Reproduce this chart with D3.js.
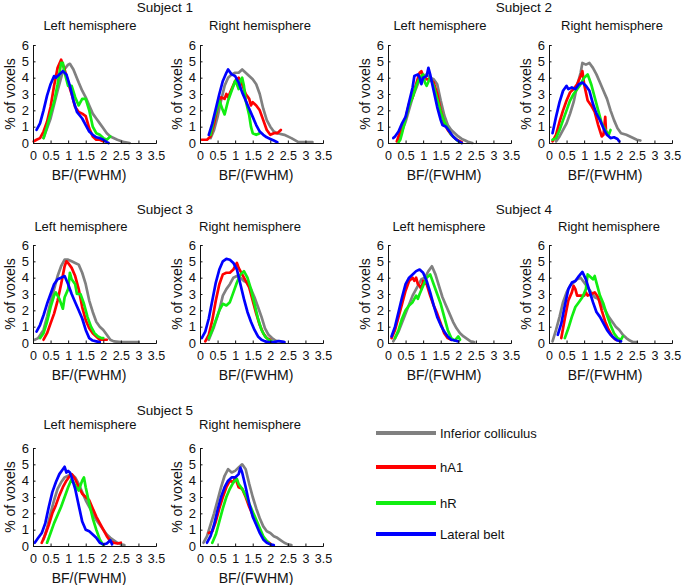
<!DOCTYPE html>
<html><head><meta charset="utf-8">
<script src="https://cdn.jsdelivr.net/npm/d3@7"></script>
<style>
body{margin:0;background:#fff;}
text{font-family:"Liberation Sans",Arial,sans-serif;fill:#111;}
</style></head>
<body>
<svg id="c" width="685" height="585"></svg>
<script>
// ---------- tick labels / categories ----------
const xTicks = [0, 0.5, 1, 1.5, 2, 2.5, 3, 3.5];
const xTickLabels = ["0", "0.5", "1", "1.5", "2", "2.5", "3", "3.5"];
const yTicks = [0, 1, 2, 3, 4, 5, 6];
const yTickLabels = ["0", "1", "2", "3", "4", "5", "6"];
const seriesNames = ["Inferior colliculus", "hA1", "hR", "Lateral belt"];
const seriesColors = ["#808080", "#ff0000", "#11ee11", "#0000ff"];
const subjects = ["Subject 1", "Subject 2", "Subject 3", "Subject 4", "Subject 5"];
const hemis = ["Left hemisphere", "Right hemisphere"];

// ---------- Subject 1 ----------
const s1L_IC = [[0.3,0.3],[0.5,1.5],[0.7,3.2],[0.85,4.4],[1.0,4.8],[1.05,4.85],[1.15,4.5],[1.3,3.7],[1.4,3.2],[1.5,2.8],[1.6,2.3],[1.7,1.8],[1.8,1.5],[1.9,1.2],[2.0,0.9],[2.1,0.6],[2.2,0.4],[2.4,0.2],[2.6,0.05],[2.75,0]];
const s1L_hA1 = [[0.02,0.1],[0.1,0.2],[0.2,0.3],[0.3,0.7],[0.4,1.3],[0.5,2.2],[0.6,3.5],[0.7,4.6],[0.8,5.1],[0.9,4.5],[1.0,3.7],[1.1,3.0],[1.2,2.2],[1.3,1.9],[1.4,1.8],[1.5,1.65],[1.6,0.9],[1.7,0.4],[1.8,0.2],[1.9,0.2],[2.0,0.1]];
const s1L_hR = [[0.3,0.3],[0.4,1.0],[0.5,1.8],[0.6,2.5],[0.7,3.6],[0.8,4.9],[0.85,4.9],[0.9,4.3],[1.0,3.5],[1.1,3.5],[1.2,2.8],[1.3,2.3],[1.4,2.7],[1.5,2.7],[1.6,2.0],[1.7,1.0],[1.8,0.6],[1.9,0.5],[2.0,0.3],[2.1,0.2],[2.2,0.4]];
const s1L_LB = [[0.1,0.8],[0.2,1.2],[0.3,2.0],[0.4,2.9],[0.5,3.6],[0.6,4.1],[0.65,4.0],[0.75,4.2],[0.85,4.4],[0.95,4.2],[1.05,3.5],[1.15,2.6],[1.25,1.9],[1.4,1.5],[1.5,1.1],[1.6,0.7],[1.7,0.5],[1.8,0.35],[1.9,0.3],[2.0,0.2],[2.1,0.05],[2.15,0]];
const s1R_IC = [[0.3,0.3],[0.4,0.8],[0.5,1.6],[0.6,2.6],[0.7,3.5],[0.8,4.0],[0.9,4.2],[1.0,4.3],[1.1,4.3],[1.2,4.5],[1.3,4.3],[1.4,4.1],[1.5,3.9],[1.6,3.6],[1.7,3.0],[1.8,2.1],[1.9,1.4],[2.0,1.0],[2.1,0.7],[2.2,0.6],[2.4,0.5],[2.6,0.3],[2.8,0.05],[3.0,0.05],[3.2,0.05]];
const s1R_hA1 = [[0.05,0.2],[0.2,0.2],[0.3,0.4],[0.4,1.2],[0.5,2.2],[0.6,2.8],[0.7,2.7],[0.75,3.0],[0.8,2.8],[0.9,3.3],[1.0,3.8],[1.1,4.0],[1.2,3.6],[1.3,3.0],[1.4,2.7],[1.45,2.3],[1.5,2.5],[1.6,2.3],[1.7,2.0],[1.8,1.4],[1.9,0.8],[2.0,0.5],[2.1,0.6],[2.2,0.6],[2.3,0.8]];
const s1R_hR = [[0.3,0.5],[0.4,1.5],[0.5,2.2],[0.55,2.6],[0.65,2.0],[0.7,1.75],[0.8,2.6],[0.9,3.2],[1.0,3.8],[1.05,3.6],[1.1,3.3],[1.15,3.8],[1.2,4.0],[1.25,3.5],[1.3,2.6],[1.4,1.7],[1.45,1.0],[1.5,0.6],[1.6,0.5],[1.7,0.6]];
const s1R_LB = [[0.25,0.5],[0.35,1.2],[0.45,2.1],[0.55,3.0],[0.65,3.8],[0.75,4.3],[0.8,4.5],[0.9,4.2],[1.0,4.1],[1.1,3.7],[1.2,3.1],[1.3,2.6],[1.4,2.1],[1.5,1.6],[1.6,1.1],[1.7,0.7],[1.8,0.5],[1.9,0.35],[2.0,0.25],[2.1,0.15],[2.2,0.05]];

// ---------- Subject 2 ----------
const s2L_IC = [[0.3,0.2],[0.5,1.3],[0.7,2.8],[0.9,3.9],[1.0,4.1],[1.1,4.2],[1.2,4.0],[1.3,3.9],[1.4,3.6],[1.5,2.6],[1.6,1.7],[1.7,1.1],[1.8,0.8],[1.9,0.6],[2.0,0.4],[2.1,0.25],[2.2,0.15],[2.3,0.05],[2.4,0]];
const s2L_hA1 = [[0.25,0.1],[0.35,0.7],[0.5,1.5],[0.6,2.4],[0.7,2.8],[0.8,3.6],[0.9,4.3],[0.95,4.4],[1.0,4.1],[1.1,3.9],[1.2,3.9],[1.3,3.7],[1.4,3.0],[1.5,2.0],[1.6,1.2],[1.7,0.8],[1.8,0.5],[1.9,0.3],[2.0,0.15],[2.1,0.05]];
const s2L_hR = [[0.3,0.05],[0.35,0.2],[0.4,0.6],[0.5,1.5],[0.6,2.3],[0.7,2.8],[0.8,3.5],[0.9,4.0],[1.0,4.2],[1.05,3.7],[1.1,3.5],[1.2,4.0],[1.3,3.5],[1.4,2.7],[1.5,1.9],[1.6,1.3],[1.7,0.9],[1.8,0.5],[1.9,0.3],[2.0,0.1]];
const s2L_LB = [[0.15,0.3],[0.2,0.4],[0.3,0.7],[0.4,1.2],[0.5,1.6],[0.6,2.5],[0.7,3.4],[0.75,4.1],[0.85,4.2],[0.9,4.0],[0.95,3.6],[1.0,4.0],[1.1,4.1],[1.15,4.6],[1.2,4.2],[1.3,3.2],[1.4,2.2],[1.5,1.4],[1.55,1.1],[1.65,1.0],[1.75,0.7],[1.85,0.4],[1.95,0.2],[2.05,0.05],[2.1,0]];
const s2R_IC = [[0.2,0.1],[0.3,0.4],[0.4,0.8],[0.5,1.2],[0.6,1.8],[0.7,2.5],[0.8,3.5],[0.9,4.3],[0.95,4.9],[1.05,4.8],[1.15,4.9],[1.25,4.6],[1.35,4.2],[1.45,3.7],[1.55,3.2],[1.65,2.7],[1.75,2.0],[1.85,1.4],[1.95,0.9],[2.05,0.6],[2.2,0.5],[2.35,0.35],[2.5,0.2],[2.6,0.15]];
const s2R_hA1 = [[0.1,0.1],[0.2,0.5],[0.3,1.3],[0.4,2.0],[0.5,2.6],[0.6,3.1],[0.7,3.3],[0.8,3.6],[0.9,4.1],[0.95,4.4],[1.0,3.6],[1.05,3.1],[1.1,2.6],[1.2,2.3],[1.3,1.9],[1.4,1.1],[1.5,0.4],[1.55,0.5],[1.6,1.6],[1.62,0.8],[1.65,0.5]];
const s2R_hR = [[0.1,0.2],[0.2,0.3],[0.3,0.8],[0.4,1.4],[0.5,2.0],[0.6,2.6],[0.7,3.0],[0.8,3.3],[0.9,3.6],[1.0,4.0],[1.1,4.2],[1.15,3.9],[1.2,3.6],[1.3,2.8],[1.4,2.0],[1.5,1.2],[1.6,0.8],[1.7,0.5],[1.75,0.8]];
const s2R_LB = [[0.1,0.6],[0.2,1.6],[0.3,2.5],[0.4,3.2],[0.5,3.5],[0.55,3.3],[0.65,3.4],[0.75,3.3],[0.85,3.6],[0.95,3.7],[1.05,3.5],[1.15,3.2],[1.25,2.4],[1.35,1.8],[1.45,1.4],[1.55,0.9],[1.65,0.5],[1.75,0.3],[1.85,0.35],[1.95,0.25],[2.0,0.1]];

// ---------- Subject 3 ----------
const s3L_IC = [[0.05,0.2],[0.15,0.3],[0.3,0.8],[0.4,1.6],[0.5,2.5],[0.6,3.3],[0.7,4.1],[0.8,4.7],[0.9,5.1],[1.0,5.1],[1.1,5.0],[1.2,4.9],[1.3,4.8],[1.4,4.3],[1.5,3.6],[1.6,2.6],[1.7,1.9],[1.8,1.3],[1.9,1.0],[2.0,0.8],[2.1,0.5],[2.2,0.2],[2.3,0.1],[2.5,0.05],[2.8,0.05],[3.0,0.05]];
const s3L_hA1 = [[0.3,0.2],[0.4,0.6],[0.5,1.2],[0.6,1.8],[0.7,2.6],[0.8,3.6],[0.9,4.7],[0.95,5.0],[1.0,4.9],[1.1,4.6],[1.2,4.1],[1.3,3.3],[1.4,2.2],[1.5,1.4],[1.6,0.9],[1.7,0.6],[1.8,0.4],[1.9,0.2],[2.0,0.2],[2.1,0.2]];
const s3L_hR = [[0.2,0.3],[0.3,0.6],[0.4,1.3],[0.5,2.2],[0.6,2.9],[0.65,3.1],[0.75,2.7],[0.85,2.1],[0.9,2.8],[1.0,3.3],[1.05,4.3],[1.1,3.9],[1.2,3.6],[1.25,3.0],[1.35,3.0],[1.45,2.4],[1.55,1.6],[1.65,1.0],[1.75,0.6],[1.85,0.4],[1.95,0.3],[2.0,0.3]];
const s3L_LB = [[0.1,0.7],[0.2,1.1],[0.3,1.7],[0.4,2.4],[0.5,3.0],[0.6,3.6],[0.7,3.9],[0.8,4.0],[0.9,4.1],[1.0,3.6],[1.1,3.0],[1.2,2.5],[1.3,2.0],[1.4,1.5],[1.5,0.8],[1.6,0.3],[1.7,0.15],[1.8,0.1],[1.9,0.05]];
const s3R_IC = [[0.25,0.2],[0.4,1.0],[0.55,2.0],[0.65,2.9],[0.75,3.3],[0.85,3.6],[0.95,4.0],[1.05,4.1],[1.15,4.0],[1.25,3.8],[1.35,3.7],[1.45,3.3],[1.55,2.8],[1.65,2.2],[1.75,1.6],[1.85,0.9],[1.95,0.5],[2.05,0.3],[2.15,0.15],[2.25,0.1],[2.4,0.05]];
const s3R_hA1 = [[0.15,0.1],[0.25,0.5],[0.35,1.4],[0.45,2.6],[0.55,3.6],[0.65,4.2],[0.75,4.3],[0.85,4.3],[0.95,4.5],[1.05,4.9],[1.1,4.6],[1.2,4.2],[1.3,3.8],[1.4,3.4],[1.5,2.6],[1.6,1.8],[1.7,1.1],[1.8,0.6],[1.9,0.3],[2.0,0.2]];
const s3R_hR = [[0.25,0.3],[0.35,0.8],[0.45,1.4],[0.55,2.0],[0.65,2.4],[0.75,2.3],[0.85,2.5],[0.95,3.1],[1.05,3.7],[1.15,4.2],[1.25,4.4],[1.35,4.0],[1.45,3.3],[1.55,2.4],[1.65,1.5],[1.75,0.8],[1.85,0.4],[1.95,0.2],[2.05,0.1]];
const s3R_LB = [[0.05,0.3],[0.15,0.7],[0.25,1.5],[0.35,2.6],[0.45,3.7],[0.55,4.5],[0.65,5.0],[0.75,5.15],[0.85,5.1],[0.95,4.9],[1.05,4.5],[1.15,3.6],[1.25,2.7],[1.35,1.9],[1.45,1.3],[1.55,0.8],[1.65,0.4],[1.75,0.2],[1.85,0.1],[1.95,0.05],[2.1,0.05],[2.25,0.12],[2.4,0.05]];

// ---------- Subject 4 ----------
const s4L_IC = [[0.15,0.1],[0.3,0.7],[0.5,1.8],[0.7,2.9],[0.85,3.5],[0.95,3.9],[1.05,4.0],[1.15,4.4],[1.25,4.7],[1.35,4.2],[1.45,3.5],[1.55,2.8],[1.65,2.3],[1.75,1.8],[1.85,1.3],[1.95,0.9],[2.05,0.6],[2.15,0.4],[2.25,0.25],[2.35,0.1],[2.45,0.05]];
const s4L_hA1 = [[0.1,0.3],[0.2,0.8],[0.3,1.6],[0.4,2.4],[0.5,3.2],[0.6,3.8],[0.7,4.0],[0.75,3.8],[0.8,4.0],[0.85,3.6],[0.9,3.5],[0.95,3.3],[1.0,3.8],[1.1,3.6],[1.2,2.9],[1.3,2.3],[1.4,1.8],[1.5,1.2],[1.6,0.6],[1.7,0.3],[1.8,0.2]];
const s4L_hR = [[0.2,0.3],[0.3,0.8],[0.4,1.5],[0.5,2.0],[0.6,2.3],[0.7,2.5],[0.8,2.9],[0.85,2.7],[0.9,3.0],[1.0,3.5],[1.1,4.0],[1.2,4.2],[1.3,3.6],[1.4,3.0],[1.5,2.4],[1.6,1.6],[1.7,0.8],[1.8,0.3],[1.9,0.15],[2.0,0.4],[2.05,0.2]];
const s4L_LB = [[0.1,0.4],[0.2,1.0],[0.3,1.9],[0.4,2.8],[0.5,3.6],[0.6,4.0],[0.7,4.2],[0.8,4.4],[0.9,4.5],[1.0,4.3],[1.1,3.8],[1.2,3.1],[1.3,2.3],[1.4,1.6],[1.5,1.1],[1.6,0.7],[1.7,0.4],[1.8,0.2],[1.9,0.15],[2.0,0.1]];
const s4R_IC = [[0.1,0.1],[0.2,0.8],[0.3,1.6],[0.4,2.5],[0.5,3.1],[0.6,3.5],[0.7,3.7],[0.8,3.9],[0.9,4.0],[1.0,3.7],[1.1,3.4],[1.2,3.1],[1.3,2.8],[1.4,2.7],[1.5,2.4],[1.6,2.0],[1.7,1.6],[1.8,1.3],[1.9,1.0],[2.0,0.8],[2.1,0.5],[2.2,0.3],[2.3,0.15],[2.4,0.05],[2.5,0.05]];
const s4R_hA1 = [[0.35,0.3],[0.45,1.5],[0.55,2.6],[0.65,3.1],[0.7,3.5],[0.75,3.3],[0.8,2.9],[0.9,2.9],[1.0,2.9],[1.05,3.1],[1.1,2.9],[1.2,3.0],[1.3,3.1],[1.4,2.8],[1.5,2.0],[1.6,1.3],[1.7,0.8],[1.8,0.4],[1.9,0.2]];
const s4R_hR = [[0.45,0.3],[0.55,0.9],[0.65,1.6],[0.75,2.2],[0.85,2.5],[0.95,2.8],[1.05,3.3],[1.1,4.2],[1.15,4.1],[1.25,3.9],[1.3,4.1],[1.35,3.7],[1.45,2.9],[1.55,2.4],[1.65,1.7],[1.75,1.1],[1.85,0.6],[1.95,0.3],[2.05,0.2],[2.1,0.4]];
const s4R_LB = [[0.25,0.5],[0.35,1.2],[0.45,2.3],[0.55,3.3],[0.65,3.7],[0.75,3.8],[0.85,4.1],[0.95,4.35],[1.05,3.9],[1.15,3.2],[1.25,2.5],[1.35,1.9],[1.45,1.6],[1.55,1.2],[1.65,0.8],[1.75,0.5],[1.85,0.3],[1.95,0.15],[2.05,0.1]];

// ---------- Subject 5 ----------
const s5L_IC = [[0.3,0.4],[0.4,1.1],[0.5,2.0],[0.6,2.8],[0.7,3.5],[0.8,3.9],[0.9,4.2],[1.0,4.3],[1.1,4.4],[1.2,4.2],[1.3,3.8],[1.4,3.3],[1.5,2.8],[1.6,2.4],[1.7,2.0],[1.8,1.6],[1.9,1.3],[2.0,1.0],[2.1,0.7],[2.2,0.5],[2.3,0.35],[2.4,0.2],[2.5,0.1],[2.6,0.05]];
const s5L_hA1 = [[0.25,0.2],[0.35,0.7],[0.45,1.3],[0.55,2.0],[0.65,2.5],[0.75,3.1],[0.85,3.6],[0.95,4.0],[1.05,4.3],[1.1,4.4],[1.2,4.1],[1.3,3.6],[1.4,3.2],[1.5,3.0],[1.6,2.8],[1.7,2.3],[1.8,1.8],[1.9,1.4],[2.0,1.0],[2.1,0.6],[2.2,0.3],[2.3,0.2],[2.4,0.15],[2.5,0.2]];
const s5L_hR = [[0.4,0.2],[0.5,0.8],[0.6,1.4],[0.7,1.9],[0.8,2.4],[0.9,3.0],[1.0,3.6],[1.1,4.1],[1.2,3.7],[1.3,3.4],[1.4,4.0],[1.45,4.2],[1.5,3.6],[1.6,2.6],[1.7,1.7],[1.8,1.0],[1.9,0.4],[2.0,0.05]];
const s5L_LB = [[0.05,0.2],[0.15,0.5],[0.25,0.8],[0.35,1.4],[0.45,2.4],[0.55,3.3],[0.65,3.9],[0.75,4.4],[0.85,4.7],[0.9,4.85],[0.95,4.5],[1.0,4.6],[1.05,4.5],[1.1,4.2],[1.2,3.5],[1.3,2.5],[1.4,1.5],[1.5,1.0],[1.6,0.9],[1.7,0.7],[1.8,0.5],[1.9,0.2],[2.0,0.1],[2.1,0.15],[2.2,0.35],[2.25,0.1]];
const s5R_IC = [[0.1,0.2],[0.2,0.6],[0.3,1.3],[0.4,2.0],[0.5,2.8],[0.6,3.6],[0.7,4.3],[0.8,4.7],[0.9,4.5],[1.0,4.6],[1.1,4.8],[1.2,5.0],[1.3,4.7],[1.4,3.8],[1.5,3.0],[1.6,2.3],[1.7,1.7],[1.8,1.2],[1.9,0.9],[2.0,0.8],[2.1,0.6],[2.2,0.5],[2.3,0.35],[2.4,0.2],[2.5,0.1],[2.6,0.05]];
const s5R_hA1 = [[0.25,0.8],[0.35,0.9],[0.45,1.5],[0.55,2.3],[0.65,3.0],[0.75,3.6],[0.85,4.0],[0.95,3.9],[1.0,4.2],[1.1,3.6],[1.2,3.5],[1.3,3.0],[1.4,2.4],[1.5,1.9],[1.6,1.4],[1.7,1.0],[1.8,0.5],[1.9,0.3],[2.0,0.15]];
const s5R_hR = [[0.35,0.2],[0.45,0.7],[0.55,1.5],[0.65,2.3],[0.75,3.0],[0.85,3.5],[0.95,3.9],[1.05,4.1],[1.1,3.8],[1.2,3.5],[1.3,3.1],[1.4,2.6],[1.5,2.1],[1.6,1.6],[1.7,1.1],[1.8,0.6],[1.9,0.3],[2.0,0.1]];
const s5R_LB = [[0.2,0.2],[0.3,0.6],[0.4,1.3],[0.5,2.2],[0.6,3.0],[0.7,3.6],[0.8,4.0],[0.9,4.2],[1.0,4.2],[1.1,4.4],[1.15,4.8],[1.2,4.5],[1.3,3.6],[1.4,2.6],[1.5,1.8],[1.6,1.3],[1.7,0.8],[1.8,0.4],[1.9,0.2],[2.0,0.1],[2.1,0.05]];

// ---------- layout (positions only) ----------
const colX = [33, 200, 388, 549];
const rowTop = [45, 245, 448];
const PW = 123, PH = 98;
const panels = [
  {subj:0, hemi:0, col:0, row:0, tx:90,  series:[s1L_IC,s1L_hA1,s1L_hR,s1L_LB]},
  {subj:0, hemi:1, col:1, row:0, tx:260, series:[s1R_IC,s1R_hA1,s1R_hR,s1R_LB]},
  {subj:1, hemi:0, col:2, row:0, tx:440, series:[s2L_IC,s2L_hA1,s2L_hR,s2L_LB]},
  {subj:1, hemi:1, col:3, row:0, tx:612, series:[s2R_IC,s2R_hA1,s2R_hR,s2R_LB]},
  {subj:2, hemi:0, col:0, row:1, tx:81,  series:[s3L_IC,s3L_hA1,s3L_hR,s3L_LB]},
  {subj:2, hemi:1, col:1, row:1, tx:250, series:[s3R_IC,s3R_hA1,s3R_hR,s3R_LB]},
  {subj:3, hemi:0, col:2, row:1, tx:439, series:[s4L_IC,s4L_hA1,s4L_hR,s4L_LB]},
  {subj:3, hemi:1, col:3, row:1, tx:609, series:[s4R_IC,s4R_hA1,s4R_hR,s4R_LB]},
  {subj:4, hemi:0, col:0, row:2, tx:90,  series:[s5L_IC,s5L_hA1,s5L_hR,s5L_LB]},
  {subj:4, hemi:1, col:1, row:2, tx:250, series:[s5R_IC,s5R_hA1,s5R_hR,s5R_LB]}
];
const subjTitle = [{x:165,y:12},{x:524,y:12},{x:165,y:214},{x:524,y:214},{x:165,y:415}];
const hemiTitleY = [29.5, 231, 429];

const svg = d3.select("#c");

subjects.forEach((s,i)=>{
  svg.append("text").attr("x",subjTitle[i].x).attr("y",subjTitle[i].y)
    .attr("text-anchor","middle").attr("font-size",13.5).text(s);
});

panels.forEach(p=>{
  const x0 = colX[p.col], y0 = rowTop[p.row];
  const x = d3.scaleLinear().domain([0,3.5]).range([x0, x0+PW]);
  const y = d3.scaleLinear().domain([0,6]).range([y0+PH, y0]);
  const g = svg.append("g");

  svg.append("text").attr("x",p.tx).attr("y",hemiTitleY[p.row])
    .attr("text-anchor","middle").attr("font-size",13).text(hemis[p.hemi]);

  // lines
  const line = d3.line().x(d=>x(d[0])).y(d=>y(d[1]));
  p.series.forEach((ser,i)=>{
    g.append("path").datum(ser).attr("d",line)
      .attr("fill","none").attr("stroke",seriesColors[i])
      .attr("stroke-width",2.7).attr("stroke-linejoin","round").attr("stroke-linecap","round");
  });

  // x axis
  const xa = d3.axisBottom(x).tickValues(xTicks).tickSize(-2.5).tickPadding(8)
    .tickFormat((d,i)=>xTickLabels[i]);
  const gx = svg.append("g").attr("transform",`translate(0,${y0+PH})`).call(xa);
  gx.select(".domain").attr("stroke","#111");
  gx.selectAll(".tick line").attr("stroke","#111");
  gx.selectAll("text").attr("font-size",12.5).attr("font-family","Liberation Sans, Arial, sans-serif").attr("fill","#111");

  const ya = d3.axisLeft(y).tickValues(yTicks).tickSize(-2.5).tickPadding(4)
    .tickFormat((d,i)=>yTickLabels[i]);
  const gy = svg.append("g").attr("transform",`translate(${x0},0)`).call(ya);
  gy.select(".domain").attr("stroke","#111");
  gy.selectAll(".tick line").attr("stroke","#111");
  gy.selectAll("text").attr("font-size",13).attr("font-family","Liberation Sans, Arial, sans-serif").attr("fill","#111");

  svg.append("text").attr("transform",`translate(${x0-18.5},${y0+PH/2}) rotate(-90)`)
    .attr("text-anchor","middle").attr("font-size",14).text("% of voxels");
  svg.append("text").attr("x",x0+56).attr("y",y0+PH+37)
    .attr("text-anchor","middle").attr("font-size",14).text("BF/(FWHM)");
});

// legend
const legY = [433, 467, 503, 534];
seriesNames.forEach((n,i)=>{
  svg.append("line").attr("x1",376).attr("x2",436).attr("y1",legY[i]).attr("y2",legY[i])
    .attr("stroke",seriesColors[i]).attr("stroke-width",4);
  svg.append("text").attr("x",440).attr("y",legY[i]+4.5).attr("font-size",13).text(n);
});
</script>
</body></html>
